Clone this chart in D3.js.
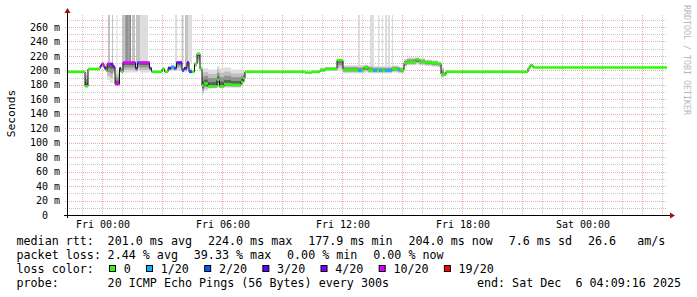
<!DOCTYPE html>
<html><head><meta charset="utf-8">
<script src="https://cdn.jsdelivr.net/npm/d3@7"></script>
<style>
html,body{margin:0;padding:0;background:#fff;}
svg{display:block;}
text{font-family:"DejaVu Sans Mono",monospace;fill:#000;}
</style>
</head><body>
<svg id="c" width="697" height="297"></svg>
<script>
// ---------- data (hours relative to Fri 00:00) ----------
const segHour   = [-1.75,-0.85,-0.70,-0.10,-0.025,0.10,0.20,0.25,0.40,0.55,0.65,0.875,0.95,1.05,1.675,1.775,1.875,2.375,2.475,3.0,3.125,3.3,3.45,3.6,3.725,4.0,4.1,4.25,4.35,4.5,4.625,4.75,4.9,5.0,5.1,5.3,5.75,5.875,6.1,6.45,6.95,7.05,7.15,10.15,10.5,10.9,11.15,11.75,12.05,12.8,13.0,13.1,13.3,13.55,13.75,13.85,14.0,14.15,14.5,14.8,14.9,15.1,15.25,15.7,15.85,16.15,16.5,16.8,16.95,17.1,17.2,21.3,21.4,21.55];
const segEndHour = 28.25;
const medianMs  = [198,178,202,206,209,204,200,209,209,205,181,203,198,211,203,211,211,203,198,202,198,203,205,203,211,200,203,211,198,198,209,223,202,179,182,178,187,178,181,180,184,189,198,197,198,200,202,214,201,200,201,204,201,200,201,200,200,200,202,201,200,210,212,215,212,211,210,209,195,194,198,203,207,204];
const lossCount = [0,0,0,4,10,4,0,10,4,4,10,4,0,10,4,2,10,4,0,0,0,3,1,2,4,2,3,4,2,0,0,0,0,0,0,0,0,0,0,0,0,0,0,0,0,0,0,0,0,1,0,0,0,1,0,1,0,1,0,1,0,0,0,0,0,0,0,0,0,0,0,0,0,0];
const smokeLoMs = [197,177,201,203,204,200,198,187,183,195,180,199,197,197,197,199,197,199,197,199,197,199,199,199,200,197,198,200,196,197,205,209,199,166,172,175,176,175,176,176,178,182,197.5,196,197,198,199,200,196,196,196,197,196,196,196,196,196,196,197,196,196,205,207,208,207,206,205,204,190,192,197.5,202,205,203.5];
const smokeHiMs = [199,198,203,208,210,206,202,210,210,207,200,205,200,212,205,212,212,205,199,204,199,206,207,207,212,204,206,212,203,199,211,224,205,203,203,201,206,203,204,201,200,199,198.5,198,200,204,205,215,207,207,207,208,207,206,206,206,206,206,207,206,205,216,218,218,217,215,214,212,205,198,198.5,204,208,204.5];
const spikeFrom  = [0.30,0.50,0.725,1.00,1.15,1.22,1.38,1.50,1.70,1.90,2.05,3.65,3.98,4.15,4.32,12.80,13.40,13.80,14.00,14.15,14.30,14.50];
const spikeTo    = [0.40,0.55,0.775,1.15,1.45,1.26,1.42,1.65,1.90,2.05,2.30,3.75,4.07,4.32,4.50,12.90,13.60,13.875,14.05,14.25,14.40,14.55];
const spikeShade = [2,2,1,2,3,4,4,2,2,1,1,1,2,2,1,1,1,1,1,1,1,1];

const yTicks = [0,20,40,60,80,100,120,140,160,180,200,220,240,260];
const lossLabels = ["0","1/20","2/20","3/20","4/20","10/20","19/20"];
const lossLevels = [0,1,2,3,4,10,19];
const lossColors = ["#26ff00","#00b8ff","#0059ff","#5e00ff","#7e00ff","#dd00ff","#ff0000"];
const statLine1 = ["201.0 ms avg","224.0 ms max","177.9 ms min","204.0 ms now","7.6 ms sd","26.6   am/s"];
const statLine2 = ["2.44 % avg","39.33 % max","0.00 % min","0.00 % now"];
const probeText = "20 ICMP Echo Pings (56 Bytes) every 300s";
const endText = "end: Sat Dec  6 04:09:16 2025";

// ---------- scales ----------
const base = new Date(2025,11,5,0,0,0);
const hd = h => new Date(base.getTime()+h*3600e3);
const X0=67, X1=667, YB=215, YT=15;
const x = d3.scaleTime().domain([hd(-1.75), hd(28.25)]).range([X0,X1]);
const y = d3.scaleLinear().domain([0,276.6]).range([YB,YT]);

const svg = d3.select("#c");
svg.append("rect").attr("width",697).attr("height",297).attr("fill","#fff");

// ---------- grid ----------
const grid = svg.append("g");
const minorH = d3.range(10,277,10).filter(v=>v%20!==0);
grid.selectAll(".hmin").data(minorH).enter().append("line")
  .attr("x1",X0-2).attr("x2",X1).attr("y1",d=>Math.round(y(d))+0.5).attr("y2",d=>Math.round(y(d))+0.5)
  .attr("stroke","#c8c8c8").attr("stroke-dasharray","1,1");
const hourTicks = d3.timeHour.every(1).range(hd(-1.75), hd(28.26));
grid.selectAll(".vmin").data(hourTicks.filter(d=>d.getHours()%3!==0)).enter().append("line")
  .attr("x1",d=>Math.round(x(d))+0.5).attr("x2",d=>Math.round(x(d))+0.5).attr("y1",YT).attr("y2",YB+2)
  .attr("stroke","#c8c8c8").attr("stroke-dasharray","1,1");
grid.selectAll(".hmaj").data(yTicks.filter(v=>v>0)).enter().append("line")
  .attr("x1",X0-2).attr("x2",X1).attr("y1",d=>Math.round(y(d))+0.5).attr("y2",d=>Math.round(y(d))+0.5)
  .attr("stroke","#e9aaaa").attr("stroke-dasharray","1,1");
grid.selectAll(".vmaj").data(hourTicks.filter(d=>d.getHours()%3===0)).enter().append("line")
  .attr("x1",d=>Math.round(x(d))+0.5).attr("x2",d=>Math.round(x(d))+0.5).attr("y1",YT).attr("y2",YB+2)
  .attr("stroke","#e9aaaa").attr("stroke-dasharray","1,1");

// ---------- smoke ----------
svg.append("clipPath").attr("id","pc").append("rect").attr("x",X0).attr("y",YT).attr("width",X1-X0).attr("height",YB-YT);
const plot = svg.append("g").attr("clip-path","url(#pc)");
const segEnd = i => i+1<segHour.length ? segHour[i+1] : segEndHour;
const medAt = h => { let i=0; while(i+1<segHour.length && segHour[i+1]<=h) i++; return medianMs[i]; };

const shadeCol = {1:"#dddddd",2:"#c2c2c2",3:"#a6a6a6",4:"#7a7a7a"};
spikeFrom.forEach((f,i)=>{
  const top = y(y.domain()[1]);
  plot.append("rect").attr("x",x(hd(f))).attr("width",Math.max(1,x(hd(spikeTo[i]))-x(hd(f))))
    .attr("y",top).attr("height",y(medAt(f))-top).attr("fill",shadeCol[spikeShade[i]]);
});

const layers = [[1,"#dedede"],[0.75,"#bfbfbf"],[0.5,"#939393"],[0.25,"#5f5f5f"]];
layers.forEach(([fr,col])=>{
  segHour.forEach((h,i)=>{
    const m=medianMs[i];
    const lo = m-(m-smokeLoMs[i])*fr, hi = m+(smokeHiMs[i]-m)*fr;
    const xa=x(hd(h)), xb=x(hd(segEnd(i)));
    plot.append("rect").attr("x",xa).attr("width",xb-xa).attr("y",y(hi)).attr("height",Math.max(0,y(lo)-y(hi))).attr("fill",col);
  });
});

// ---------- median ----------
const colorFor = l => { let k=0; lossLevels.forEach((lv,j)=>{ if(l>=lv) k=j; }); return lossColors[k]; };
segHour.forEach((h,i)=>{
  if(i+1<segHour.length){
    const xv = x(hd(segHour[i+1]));
    plot.append("line").attr("x1",xv).attr("x2",xv).attr("y1",y(medianMs[i])).attr("y2",y(medianMs[i+1]))
      .attr("stroke","#111").attr("stroke-width",1);
  }
});
segHour.forEach((h,i)=>{
  plot.append("line").attr("x1",x(hd(h))).attr("x2",x(hd(segEnd(i))))
    .attr("y1",y(medianMs[i])).attr("y2",y(medianMs[i]))
    .attr("stroke",colorFor(lossCount[i])).attr("stroke-width",2.5);
});

// ---------- axes ----------
svg.append("line").attr("x1",X0+0.5).attr("x2",X0+0.5).attr("y1",12).attr("y2",YB+3).attr("stroke","#000");
svg.append("line").attr("x1",X0-3).attr("x2",671).attr("y1",YB+0.5).attr("y2",YB+0.5).attr("stroke","#000");
svg.append("path").attr("d",`M${X0-2.5},13 L${X0+3.5},13 L${X0+0.5},8 Z`).attr("fill","#a01010");
svg.append("path").attr("d",`M670,${YB-2.5} L670,${YB+3.5} L675,${YB+0.5} Z`).attr("fill","#a01010");

svg.selectAll(".yl").data(yTicks).enter().append("text")
  .attr("x",60).attr("y",d=>y(d)+3.6).attr("text-anchor","end").attr("font-size","10px")
  .style("white-space","pre").text(d=>d===0?"0\u00a0\u00a0":d+" m");

const fmt = d3.timeFormat("%a %H:%M");
svg.selectAll(".xl").data(d3.timeHour.every(6).range(hd(-1.75),hd(28.25))).enter().append("text")
  .attr("x",d=>x(d)+1).attr("y",228).attr("text-anchor","middle").attr("font-size","10px").text(d=>fmt(d));

svg.append("text").attr("transform","translate(15,113.5) rotate(-90)").attr("text-anchor","middle")
  .attr("font-size","11.3px").text("Seconds");
svg.append("text").attr("transform","translate(684,5) rotate(90)").attr("font-size","8.3px")
  .style("fill","#b8b8b8").text("RRDTOOL / TOBI OETIKER");

// ---------- legend ----------
const FS="11.7px", CW=7.04, VX=107.6, GAP=15.8;
function line(label, items, yb){
  svg.append("text").attr("x",16.5).attr("y",yb).attr("font-size",FS).text(label);
  let cx=VX;
  items.forEach(t=>{
    svg.append("text").attr("x",cx).attr("y",yb).attr("font-size",FS).style("white-space","pre").text(t);
    cx += t.length*CW + GAP;
  });
}
line("median rtt:", statLine1, 244.5);
line("packet loss:", statLine2, 258.5);
svg.append("text").attr("x",16.5).attr("y",272.5).attr("font-size",FS).text("loss color:");
let bx=109;
lossLabels.forEach((l,i)=>{
  svg.append("rect").attr("x",bx+0.5).attr("y",265.5).attr("width",6).attr("height",6)
    .attr("fill",lossColors[i]).attr("stroke","#000").attr("stroke-width",1);
  svg.append("text").attr("x",bx+14.7).attr("y",272.5).attr("font-size",FS).text(l);
  bx += 30 + l.length*CW;
});
svg.append("text").attr("x",16.5).attr("y",286.5).attr("font-size",FS).text("probe:");
svg.append("text").attr("x",VX).attr("y",286.5).attr("font-size",FS).text(probeText);
svg.append("text").attr("x",681).attr("y",286.5).attr("font-size",FS).attr("text-anchor","end").style("white-space","pre").text(endText);
</script>
</body></html>
